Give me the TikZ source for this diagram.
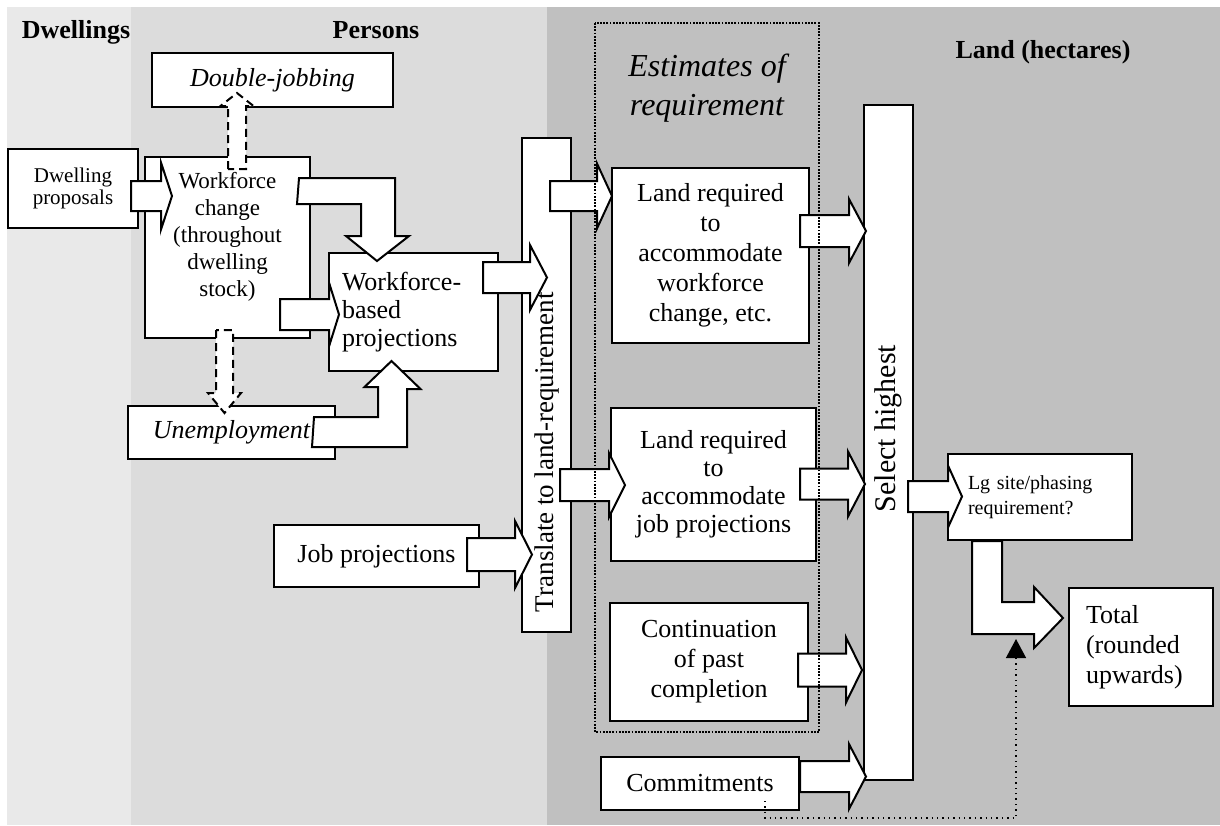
\documentclass[tikz,border=0pt]{standalone}
\usepackage{fontspec}
\setmainfont{Liberation Serif}
\usepackage{tikz}
\usetikzlibrary{calc,arrows.meta}
\definecolor{dwell}{HTML}{E9E9E9}
\definecolor{pers}{HTML}{DCDCDC}
\definecolor{land}{HTML}{C0C0C0}
\def\bsh{15.5}\def\bhd{32.5}\def\bln{17}
\tikzset{
  x=0.5pt, y=-0.5pt,
  box/.style={draw=black, fill=white, line width=1pt, inner sep=2pt, align=center,
    font=\fontsize{13}{15}\selectfont},
  colhead/.style={anchor=base, font=\fontsize{13}{15}\selectfont\bfseries},
  barrow/.style={draw=black, fill=white, line width=1pt},
  dasharrow/.style={barrow, dash pattern=on 4pt off 2.5pt},
  shaftw/.code={\def\bsh{#1}},
  headw/.code={\def\bhd{#1}},
  headl/.code={\def\bln{#1}},
  estframe/.style={draw=black, line width=1.3pt, dash pattern=on 0.9pt off 0.7pt},
  feed/.style={draw=black, line width=0.7pt, dotted, -{Triangle[length=9.5pt,width=10pt]}}
}
% block arrow pointing right: start, tip
\newcommand\rarrow[3][]{%
  \draw[barrow,#1] ($(#2|-#3)+(0,-\bsh)$) -- ($(#3)+(-\bln,-\bsh)$)
    -- ($(#3)+(-\bln,-\bhd)$) -- (#3) -- ($(#3)+(-\bln,\bhd)$)
    -- ($(#3)+(-\bln,\bsh)$) -- ($(#2|-#3)+(0,\bsh)$) -- cycle;}
% block arrow up or down (negative headl for up): start, tip
\newcommand\varrow[3][]{%
  \draw[barrow,#1] ($(#3|-#2)+(-\bsh,0)$) -- ($(#3)+(-\bsh,{-(\bln)})$)
    -- ($(#3)+(-\bhd,{-(\bln)})$) -- (#3) -- ($(#3)+(\bhd,{-(\bln)})$)
    -- ($(#3)+(\bsh,{-(\bln)})$) -- ($(#3|-#2)+(\bsh,0)$) -- cycle;}

\begin{document}
\begin{tikzpicture}
  \useasboundingbox (0,0) rectangle (1220,825);
  \fill[dwell] (7,7) rectangle (131,825);
  \fill[pers] (131,7) rectangle (547,825);
  \fill[land] (547,7) rectangle (1220,825);

  \node[colhead] (hdw) at (76,38) {Dwellings};
  \node[colhead] (hpe) at (376,38) {Persons};
  \node[colhead] (hla) at (1043,58) {Land (hectares)};
  \node[align=center, font=\fontsize{16}{19.5}\selectfont\itshape] (est) at (707,88)
    {Estimates of\\requirement};

  % persons side
  \node[box, minimum width=120.5pt, minimum height=27pt, font=\fontsize{13}{15}\selectfont\itshape]
    (dj) at (272.5,80) {Double-jobbing};
  \node[box, minimum width=65pt, minimum height=39.5pt, font=\fontsize{10.5}{11}\selectfont]
    (dp) at (73,188.5) {Dwelling\\proposals};
  \node[box, minimum width=82.5pt, minimum height=90.5pt, font=\fontsize{11.5}{13.5}\selectfont]
    (wc) at (227.5,247.5) {Workforce\\change\\(throughout\\dwelling\\stock)\\[-4pt]\strut};
  \node[box, minimum width=84.5pt, minimum height=59pt, align=left, inner xsep=6.5pt, text width=71.5pt,
    font=\fontsize{13}{14}\selectfont] (wb) at (413.5,312) {Workforce-\\based\\projections};
  \node[box, minimum width=103.5pt, minimum height=26.5pt, font=\fontsize{13}{15}\selectfont\itshape]
    (un) at (231.5,432.5) {Unemployment};
  \node[box, minimum width=102.5pt, minimum height=31pt] (jp) at (376.5,556) {Job projections};
  \node[box, minimum width=24.5pt, minimum height=247pt, font=\fontsize{13.5}{15}\selectfont]
    (tr) at (546.5,385)
    {\rotatebox{90}{\makebox[227pt][l]{Translate to land-requirement}}};

  % land side
  \node[box, minimum width=98.5pt, minimum height=87.5pt] (lr1) at (710.5,255.5)
    {Land required\\to\\accommodate\\workforce\\change, etc.};
  \node[box, minimum width=102.5pt, minimum height=76.5pt, font=\fontsize{13}{14}\selectfont]
    (lr2) at (713.5,484.5) {Land required\\to\\accommodate\\job projections};
  \node[box, minimum width=99pt, minimum height=59pt] (cp) at (709,662)
    {Continuation\\of past\\completion};
  \node[box, minimum width=99pt, minimum height=26.5pt] (cm) at (700,783.5) {Commitments};
  \node[box, minimum width=24.5pt, minimum height=337.5pt, font=\fontsize{15}{15}\selectfont]
    (sh) at (888.5,442.5) {\rotatebox{90}{\hspace{14pt}Select highest}};
  \node[box, minimum width=92pt, minimum height=43pt, align=left, inner xsep=10pt, text width=72pt,
    font=\fontsize{10}{12.5}\selectfont] (lg) at (1040,497) {Lg site/phasing\\requirement?};
  \node[box, minimum width=72pt, minimum height=59pt, align=left, inner xsep=8.5pt, text width=55pt]
    (tt) at (1141,647) {Total\\(rounded\\upwards)};

  % arrow ends
  \coordinate (a1s) at ($(dp.east)+(-8,8.5)$);
  \coordinate (a1t) at ($(wc.north west)+(28,40)$);
  \coordinate (a2s) at ($(wc.north west)+(93,13)$);
  \coordinate (a2t) at ($(dj.south west)+(86,-15)$);
  \coordinate (a3s) at ($(wc.north east)+(-12,35)$);
  \coordinate (a3t) at ($(wb.north west)+(49,9)$);
  \coordinate (a4s) at ($(wc.south east)+(-31,-23.5)$);
  \coordinate (a4t) at ($(wb.west)+(11,2.5)$);
  \coordinate (a5s) at ($(wc.south west)+(80.5,-9)$);
  \coordinate (a5t) at ($(un.north west)+(97.5,8)$);
  \coordinate (a6s) at ($(un.north east)+(-22,12)$);
  \coordinate (a6t) at ($(wb.south west)+(63.5,-11)$);
  \coordinate (a7s) at ($(wb.north east)+(-16,24.5)$);
  \coordinate (a7t) at ($(tr.west)+(26,-107.5)$);
  \coordinate (a8s) at ($(jp.east)+(-13,-1.5)$);
  \coordinate (a8t) at ($(tr.west)+(11,169.5)$);
  \coordinate (a9s) at ($(tr.east)+(-22,-188)$);
  \coordinate (a9t) at ($(lr1.north west)+(1,29)$);
  \coordinate (a10s) at ($(tr.east)+(-12,100)$);
  \coordinate (a10t) at ($(lr2.west)+(15,0.5)$);
  \coordinate (a11s) at ($(lr1.east)+(-10,-24.5)$);
  \coordinate (a11t) at ($(sh.west)+(3,-211.5)$);
  \coordinate (a12s) at ($(lr2.east)+(-17,-0.5)$);
  \coordinate (a12t) at ($(sh.west)+(2,41.5)$);
  \coordinate (a13s) at ($(cp.east)+(-11,8)$);
  \coordinate (a13t) at ($(sh.west)+(-1,227.5)$);
  \coordinate (a14s) at ($(cm.east)+(0,-8)$);
  \coordinate (a14t) at ($(sh.south west)+(3,-4.5)$);
  \coordinate (a15s) at ($(sh.east)+(-6,54)$);
  \coordinate (a15t) at ($(lg.west)+(15,-0.5)$);
  \coordinate (a16s) at ($(lg.south west)+(25,0)$);
  \coordinate (a16t) at ($(tt.west)+(-5,-29)$);
  \coordinate (fbs) at ($(cm.south west)+(165,-10)$);
  \coordinate (fbt) at ($(tt.south west)+(-52,-68)$);

  \rarrow[shaftw=15, headw=33.5, headl=11]{a1s}{a1t}
  \varrow[dasharrow, shaftw=9, headw=16.5, headl=-13]{a2s}{a2t}
  \draw[barrow] (a3s) ++(0,-13) -- ++(96,0) -- ++(0,58) -- ++(14,0) -- (a3t)
    -- ++(-31,-25) -- ++(15,0) -- ++(0,-32) -- ++(-64,0) -- cycle;
  \rarrow[shaftw=15.5, headw=32, headl=10]{a4s}{a4t}
  \varrow[dasharrow, shaftw=8.5, headw=16.5, headl=20]{a5s}{a5t}
  \draw[barrow] (a6s) -- ++(64,0) -- ++(0,-30) -- ++(-13.5,0) -- (a6t)
    -- ++(29,28) -- ++(-13.5,0) -- ++(0,58) -- ++(-95,0) -- cycle;
  \rarrow{a7s}{a7t}
  \rarrow[shaftw=16.5, headw=33.5]{a8s}{a8t}
  \rarrow[shaftw=15, headl=15]{a9s}{a9t}
  \rarrow[shaftw=16, headw=32, headl=16]{a10s}{a10t}
  \rarrow[shaftw=16, headw=32]{a11s}{a11t}
  \rarrow{a12s}{a12t}
  \rarrow[shaftw=16.5, headl=16]{a13s}{a13t}
  \rarrow{a14s}{a14t}
  \rarrow[headw=31, headl=14]{a15s}{a15t}
  \draw[barrow] (a16s) -- ++(30,0) -- ++(0,61) -- ++(32,0) -- ++(0,-15) -- (a16t)
    -- ++(-29,30) -- ++(0,-14) -- ++(-62,0) -- cycle;

  \draw[estframe] (595,23) rectangle (819,732);
  \draw[feed] (fbs) -- ++(0,17) -| (fbt);
\end{tikzpicture}
\end{document}
